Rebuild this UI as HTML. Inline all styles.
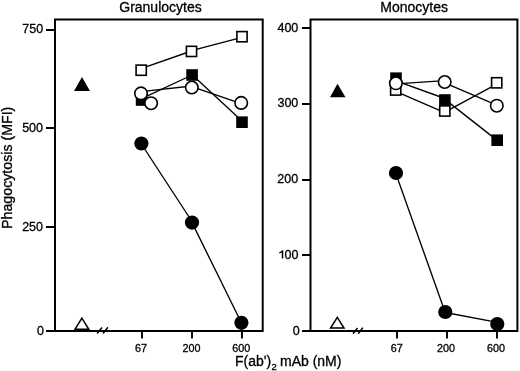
<!DOCTYPE html>
<html>
<head>
<meta charset="utf-8">
<style>
html,body{margin:0;padding:0;background:#fff;}
body{width:520px;height:371px;overflow:hidden;}
svg{display:block;will-change:transform;}
text{font-family:"Liberation Sans", sans-serif;fill:#000;stroke:#000;stroke-width:0.3px;}
</style>
</head>
<body>
<svg width="520" height="371" viewBox="0 0 520 371">
<rect x="0" y="0" width="520" height="371" fill="#fff"/>
<text x="160.5" y="12" font-size="14" text-anchor="middle">Granulocytes</text>
<text x="414.2" y="12" font-size="14" text-anchor="middle">Monocytes</text>
<text transform="translate(11.8,167.8) rotate(-90)" font-size="14.2" text-anchor="middle">Phagocytosis (MFI)</text>
<text x="235" y="365.7" font-size="14">F(ab')</text><text x="271.6" y="369.6" font-size="9.5">2</text><text x="280" y="365.7" font-size="14">mAb (nM)</text>
<g fill="none" stroke="#000" stroke-width="2">
<rect x="55" y="19.5" width="207.7" height="311.5"/>
<rect x="310.5" y="19.5" width="206.9" height="311.5"/>
<path d="M46 30H55M46 128H55M46 227H55M46 331H55" stroke-width="1.8"/>
<path d="M302 28H310.5M302 104H310.5M302 180H310.5M302 255H310.5M302 331H310.5" stroke-width="1.8"/>
<path d="M142 331V338.5M192 331V338.5M242 331V338.5M397 331V338.5M447 331V338.5M497 331V338.5" stroke-width="1.9"/>
</g>
<g stroke="#000" stroke-width="1.5" fill="none">
<path d="M97.1 333.5L102 327.5M103 333.5L107.9 327.3"/>
<path d="M353 333.7L357.5 328M358.2 333.7L362.8 327.6"/>
</g>
<g font-size="12.5" text-anchor="end">
<text x="43.2" y="33.4">750</text>
<text x="43" y="132">500</text>
<text x="43" y="230.8">250</text>
<text x="44" y="335">0</text>
<text x="298.3" y="31.8">400</text>
<text x="298.3" y="107">300</text>
<text x="298.2" y="182.8">200</text>
<text x="298.4" y="258.8">00</text>
<text x="299.8" y="335">0</text>
</g>
<path d="M282.5 250.2V258.5M282.6 250.5C281.9 251.9 280.6 252.6 279.3 252.9" stroke="#000" stroke-width="1.45" fill="none"/>
<g font-size="10.8" text-anchor="middle">
<text x="141" y="351.5">67</text>
<text x="191.5" y="351.5">200</text>
<text x="241.3" y="351.5">600</text>
<text x="396.8" y="351.5">67</text>
<text x="446" y="351.5">200</text>
<text x="496" y="351.5">600</text>
</g>
<g stroke="#000" stroke-width="1.35" fill="none">
<line x1="141.00" y1="68.60" x2="191.50" y2="51.00"/>
<line x1="191.50" y1="50.70" x2="242.00" y2="37.40"/>
<line x1="141.60" y1="98.70" x2="192.10" y2="75.00"/>
<line x1="192.10" y1="74.80" x2="242.00" y2="120.90"/>
<line x1="141.00" y1="91.60" x2="191.80" y2="86.00"/>
<line x1="191.80" y1="86.60" x2="241.20" y2="103.60"/>
<line x1="141.40" y1="144.00" x2="192.00" y2="221.50"/>
<line x1="192.00" y1="222.60" x2="241.40" y2="322.80"/>
<line x1="395.90" y1="83.90" x2="444.70" y2="80.70"/>
<line x1="444.70" y1="82.80" x2="496.80" y2="105.20"/>
<line x1="396.00" y1="80.90" x2="444.90" y2="98.50"/>
<line x1="444.90" y1="99.40" x2="497.20" y2="140.40"/>
<line x1="395.70" y1="91.40" x2="444.80" y2="112.60"/>
<line x1="444.80" y1="112.20" x2="496.70" y2="84.10"/>
<line x1="396.00" y1="174.10" x2="445.30" y2="312.70"/>
<line x1="445.30" y1="312.50" x2="497.30" y2="322.40"/>
</g>
<rect x="135.80" y="94.20" width="11.60" height="11.60" fill="#000"/>
<rect x="186.30" y="69.20" width="11.60" height="11.60" fill="#000"/>
<rect x="236.20" y="116.40" width="11.60" height="11.60" fill="#000"/>
<rect x="390.20" y="72.40" width="11.60" height="11.60" fill="#000"/>
<rect x="439.10" y="94.20" width="11.60" height="11.60" fill="#000"/>
<rect x="491.40" y="134.40" width="11.60" height="11.60" fill="#000"/>
<rect x="136.10" y="65.10" width="10.20" height="10.20" fill="#fff" stroke="#000" stroke-width="1.60"/>
<rect x="186.40" y="46.30" width="10.20" height="10.20" fill="#fff" stroke="#000" stroke-width="1.60"/>
<rect x="236.90" y="31.60" width="10.20" height="10.20" fill="#fff" stroke="#000" stroke-width="1.60"/>
<rect x="390.60" y="84.90" width="10.20" height="10.20" fill="#fff" stroke="#000" stroke-width="1.60"/>
<rect x="439.70" y="105.90" width="10.20" height="10.20" fill="#fff" stroke="#000" stroke-width="1.60"/>
<rect x="491.60" y="77.70" width="10.20" height="10.20" fill="#fff" stroke="#000" stroke-width="1.60"/>
<circle cx="141.00" cy="93.40" r="6.25" fill="#fff" stroke="#000" stroke-width="1.60"/>
<circle cx="191.80" cy="87.50" r="6.25" fill="#fff" stroke="#000" stroke-width="1.60"/>
<circle cx="241.20" cy="102.90" r="6.25" fill="#fff" stroke="#000" stroke-width="1.60"/>
<circle cx="151.10" cy="103.20" r="6.25" fill="#fff" stroke="#000" stroke-width="1.60"/>
<circle cx="395.90" cy="83.30" r="6.25" fill="#fff" stroke="#000" stroke-width="1.60"/>
<circle cx="444.70" cy="82.00" r="6.25" fill="#fff" stroke="#000" stroke-width="1.60"/>
<circle cx="496.80" cy="105.70" r="6.25" fill="#fff" stroke="#000" stroke-width="1.60"/>
<circle cx="141.40" cy="143.50" r="7.10" fill="#000"/>
<circle cx="192.00" cy="222.60" r="7.10" fill="#000"/>
<circle cx="241.40" cy="322.80" r="7.10" fill="#000"/>
<circle cx="396.00" cy="173.00" r="7.10" fill="#000"/>
<circle cx="445.30" cy="312.00" r="7.10" fill="#000"/>
<circle cx="497.30" cy="324.10" r="7.10" fill="#000"/>
<polygon points="82,77 74,91 90,91" fill="#000"/>
<polygon points="81.9,318.1 75,329.3 88.8,329.3" fill="none" stroke="#000" stroke-width="1.5"/>
<polygon points="337.5,83.7 330,97.2 345.5,97.2" fill="#000"/>
<polygon points="337.3,317.4 330.6,328 344,328" fill="none" stroke="#000" stroke-width="1.5"/>
</svg>
</body>
</html>
